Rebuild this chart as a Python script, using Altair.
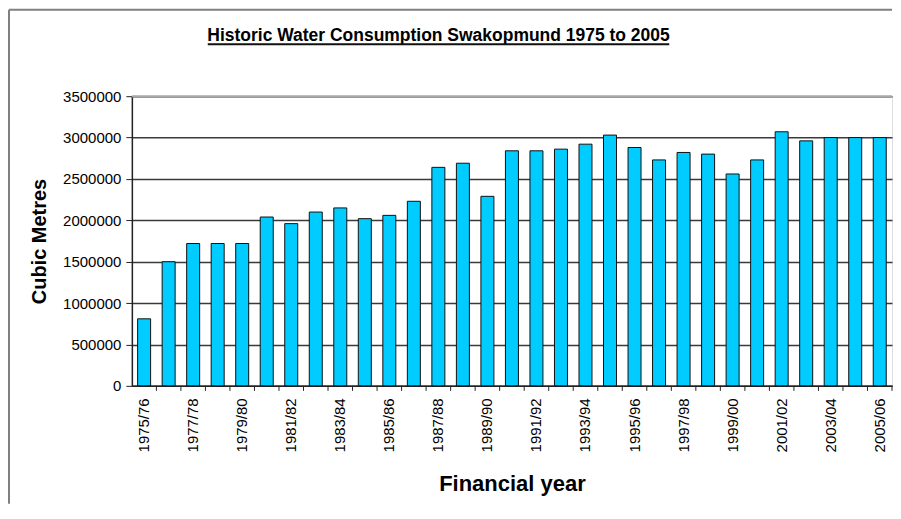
import altair as alt
import pandas as pd

years = ["1975/76", "1976/77", "1977/78", "1978/79", "1979/80", "1980/81", "1981/82",
         "1982/83", "1983/84", "1984/85", "1985/86", "1986/87", "1987/88", "1988/89",
         "1989/90", "1990/91", "1991/92", "1992/93", "1993/94", "1994/95", "1995/96",
         "1996/97", "1997/98", "1998/99", "1999/00", "2000/01", "2001/02", "2002/03",
         "2003/04", "2004/05", "2005/06"]
consumption = [810000, 1500000, 1720000, 1720000, 1720000, 2040000, 1960000,
               2100000, 2150000, 2020000, 2060000, 2230000, 2640000, 2690000,
               2290000, 2840000, 2840000, 2860000, 2920000, 3030000, 2880000,
               2730000, 2820000, 2800000, 2560000, 2730000, 3070000, 2960000,
               3000000, 3000000, 3000000]
y_ticks = [0, 500000, 1000000, 1500000, 2000000, 2500000, 3000000, 3500000]
title_text = "Historic Water Consumption Swakopmund 1975 to 2005"

FONT = "Liberation Sans"
W, H = 761, 290
PAD_IN = 0.47
PAD_OUT = PAD_IN / 2
STEP = W / len(years)
GAP_HALF = STEP * PAD_OUT

df = pd.DataFrame({"year": years, "amount": consumption})
x_scale = alt.Scale(paddingInner=PAD_IN, paddingOuter=PAD_OUT)

bars = alt.Chart(df).mark_bar(
    fill="#00CCFF", stroke="#111111", strokeWidth=1
).encode(
    x=alt.X("year:N", sort=None, scale=x_scale,
            axis=alt.Axis(
                title="Financial year",
                values=years[::2],
                labelAngle=-90,
                labelFont=FONT, labelFontSize=15, labelColor="#000000",
                labelPadding=12, ticks=False,
                domainColor="#222222", domainWidth=1.5,
                titleFont=FONT, titleFontSize=22, titleFontWeight="bold",
                titleColor="#000000", titleBaseline="alphabetic", titleY=105,
                grid=False,
            )),
    y=alt.Y("amount:Q",
            scale=alt.Scale(domain=[0, 3500000], nice=False),
            axis=alt.Axis(
                title="Cubic Metres",
                values=y_ticks, format="d",
                labelFont=FONT, labelFontSize=15, labelColor="#000000",
                labelPadding=5, tickSize=6, tickColor="#222222",
                domainColor="#222222", domainWidth=1.5,
                grid=True, gridColor="#3a3a3a", gridWidth=1.5,
                titleFont=FONT, titleFontSize=20, titleFontWeight="bold",
                titleColor="#000000", titleAngle=-90,
                titleX=-92, titleY=H / 2, titleAlign="center", titleBaseline="middle",
            )),
)

# category-boundary tick marks below the x axis (Excel style)
xticks = alt.Chart(df).mark_rule(
    color="#222222", strokeWidth=1, xOffset=GAP_HALF
).encode(
    x=alt.X("year:N", sort=None, scale=x_scale, bandPosition=1),
    y=alt.value(H), y2=alt.value(H + 5),
)

top_border = alt.Chart(pd.DataFrame({"t": [1]})).mark_rule(
    color="#a8a8a8", strokeWidth=2
).encode(x=alt.value(0), x2=alt.value(W), y=alt.value(0))

title = alt.Chart(pd.DataFrame({"t": [title_text]})).mark_text(
    font=FONT, fontSize=17.5, fontWeight="bold", color="#000000",
    align="center", baseline="alphabetic"
).encode(text="t:N", x=alt.value(307), y=alt.value(-55))

underline = alt.Chart(pd.DataFrame({"t": [1]})).mark_rule(
    color="#111111", strokeWidth=2
).encode(x=alt.value(76), x2=alt.value(538), y=alt.value(-52))

frame_top = alt.Chart(pd.DataFrame({"t": [1]})).mark_rule(
    color="#808080", strokeWidth=2
).encode(x=alt.value(-123), x2=alt.value(W), y=alt.value(-86.5))

frame_left = alt.Chart(pd.DataFrame({"t": [1]})).mark_rule(
    color="#808080", strokeWidth=2
).encode(x=alt.value(-123), y=alt.value(-86.5), y2=alt.value(H + 118))

chart = alt.layer(bars, xticks, top_border, title, underline, frame_top, frame_left).properties(
    width=W, height=H,
    padding=0,
).configure_view(
    stroke="#a8a8a8", strokeWidth=2
).configure(background="#ffffff")

chart.save("out.html", embed_options={"renderer": "svg", "actions": False})
